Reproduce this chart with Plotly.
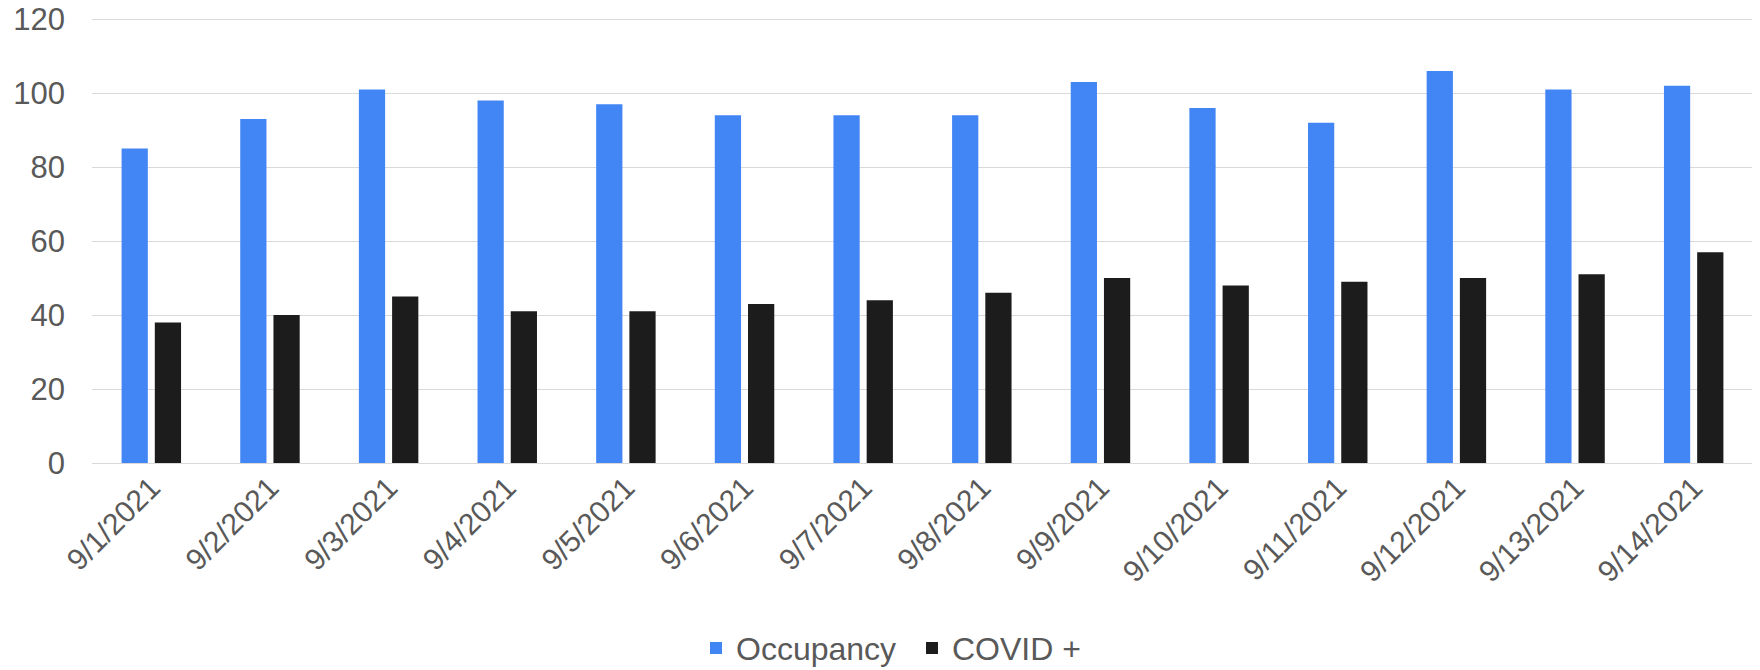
import plotly.graph_objects as go

dates = ["9/1/2021", "9/2/2021", "9/3/2021", "9/4/2021", "9/5/2021", "9/6/2021", "9/7/2021",
         "9/8/2021", "9/9/2021", "9/10/2021", "9/11/2021", "9/12/2021", "9/13/2021", "9/14/2021"]
occupancy = [85, 93, 101, 98, 97, 94, 94, 94, 103, 96, 92, 106, 101, 102]
covid_pos = [38, 40, 45, 41, 41, 43, 44, 46, 50, 48, 49, 50, 51, 57]

FONT = "Liberation Sans, Arial, sans-serif"
TXT = "#595959"

fig = go.Figure()
fig.add_trace(go.Bar(x=dates, y=occupancy, name="Occupancy", marker=dict(color="#4285F4", line=dict(width=0))))
fig.add_trace(go.Bar(x=dates, y=covid_pos, name="COVID +", marker=dict(color="#1c1c1c", line=dict(width=0))))

fig.update_layout(
    width=1752, height=662,
    margin=dict(l=84, r=7, t=10, b=207),
    paper_bgcolor="white", plot_bgcolor="white",
    barmode="group", bargap=0.44, bargroupgap=0.21,
    font=dict(family=FONT, size=31, color=TXT),
    showlegend=True,
    legend=dict(orientation="h", xref="container", yref="container",
                x=0.3927, xanchor="left", y=0.033, yanchor="middle",
                entrywidth=171, entrywidthmode="pixels",
                font=dict(size=32, color=TXT), itemsizing="constant"),
    xaxis=dict(tickangle=-45, tickfont=dict(size=30, color=TXT), showgrid=False,
               showline=False, ticks="", automargin=False),
    yaxis=dict(range=[0, 120.3], dtick=20, tickfont=dict(size=31, color=TXT),
               gridcolor="#d9d9d9", gridwidth=1.3, zeroline=True, zerolinecolor="#d9d9d9",
               zerolinewidth=1.3, showline=False, ticks="", ticklabelstandoff=26,
               ticklabeloverflow="allow", automargin=False),
)

fig.write_html("out.html")
